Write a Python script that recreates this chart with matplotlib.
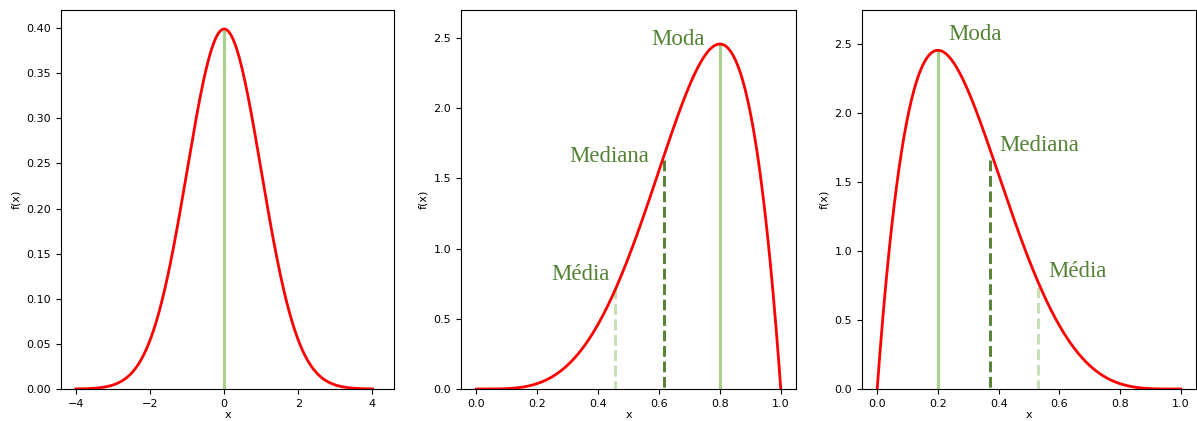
import numpy as np
import matplotlib
matplotlib.use("Agg")
import matplotlib.pyplot as plt

# --- data ---
# left panel: standard normal distribution
normal_mu = 0.0
normal_sigma = 1.0
normal_range = (-4.0, 4.0)
normal_center_line = (0.0, 0.399)      # x, height

# middle panel: beta(5, 2) (left skewed); right panel: beta(2, 5) (right skewed)
beta_left_params = (5, 2)
beta_right_params = (2, 5)

labels = ["Média", "Mediana", "Moda"]
# marker lines: x position and height
mid_lines_x = [0.457, 0.616, 0.800]
mid_lines_h = [0.72, 1.63, 2.45]
right_lines_x = [0.531, 0.372, 0.200]
right_lines_h = [0.74, 1.66, 2.45]
# label anchor positions (data coords, left/baseline)
mid_label_x = [0.247, 0.306, 0.575]
mid_label_y = [0.78, 1.62, 2.45]
right_label_x = [0.564, 0.403, 0.233]
right_label_y = [0.81, 1.73, 2.53]

line_colors = ["#c5e0b4", "#548235", "#a9d18e"]
line_styles = ["--", "--", "-"]
text_color = "#548235"


def normal_pdf(x, mu, sigma):
    return np.exp(-0.5 * ((x - mu) / sigma) ** 2) / (sigma * np.sqrt(2 * np.pi))


def beta_pdf(x, a, b):
    from math import gamma
    c = gamma(a + b) / (gamma(a) * gamma(b))
    return c * x ** (a - 1) * (1 - x) ** (b - 1)


plt.rcParams["font.size"] = 8
fig = plt.figure(figsize=(11.97, 4.21), dpi=100)
W, H = 1197, 421


def ax_at(l, r, t, b):
    return fig.add_axes([l / W, 1 - b / H, (r - l) / W, (b - t) / H])


ax1 = ax_at(61, 394, 10, 389)
ax2 = ax_at(461, 796, 10, 389)
ax3 = ax_at(862, 1196, 10, 389)

# left
xn = np.linspace(normal_range[0], normal_range[1], 500)
ax1.plot(xn, normal_pdf(xn, normal_mu, normal_sigma), color="red", lw=2, zorder=3)
ax1.plot([normal_center_line[0]] * 2, [normal_center_line[1], 0], color="#a9d18e",
         lw=2.3, zorder=2)
ax1.set_xlim(-4.4, 4.58)
ax1.set_ylim(0, 0.42)
ax1.set_yticks(np.arange(0, 0.401, 0.05))
ax1.set_xticks([-4, -2, 0, 2, 4])

xb = np.linspace(0, 1, 500)
font_serif = {"family": ["Liberation Serif", "DejaVu Serif"], "size": 16.5, "color": text_color}

for ax, params, lx, lh, tx, ty, ymax in [
    (ax2, beta_left_params, mid_lines_x, mid_lines_h, mid_label_x, mid_label_y, 2.70),
    (ax3, beta_right_params, right_lines_x, right_lines_h, right_label_x, right_label_y, 2.75),
]:
    ax.plot(xb, beta_pdf(xb, *params), color="red", lw=2, zorder=3)
    for i in range(3):
        ax.plot([lx[i], lx[i]], [lh[i], 0], color=line_colors[i],
                lw=2.1 if i < 2 else 2.3, linestyle=line_styles[i], zorder=2)
        ax.text(tx[i], ty[i], labels[i], fontdict=font_serif, ha="left", va="baseline")
    ax.set_xlim(-0.05, 1.05)
    ax.set_ylim(0, ymax)
    ax.set_xticks([0, 0.2, 0.4, 0.6, 0.8, 1.0])
    ax.set_yticks([0, 0.5, 1.0, 1.5, 2.0, 2.5])

for ax in (ax1, ax2, ax3):
    ax.set_xlabel("x", fontsize=8, labelpad=1)
    ax.set_ylabel("f(x)", fontsize=8)
    ax.tick_params(labelsize=8)

fig.savefig("out.png", dpi=100)
